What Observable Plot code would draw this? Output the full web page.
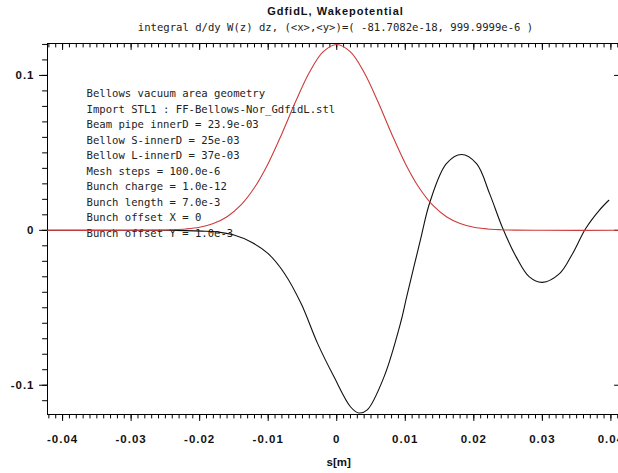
<!DOCTYPE html>
<html>
<head>
<meta charset="utf-8">
<script src="https://cdn.jsdelivr.net/npm/d3@7"></script>
<script src="https://cdn.jsdelivr.net/npm/@observablehq/plot@0.6"></script>
<style>
  html, body { margin: 0; padding: 0; background: #fff; overflow: hidden; width: 618px; height: 473px; }
  #title { width: 577px; padding-left: 47px; padding-top: 5px; height: 16px; line-height: 16px; text-align: center;
           font: bold 11px "Liberation Sans", Arial, sans-serif; letter-spacing: 1px; color: #111; white-space: nowrap; }
  #subtitle { width: 577px; padding-left: 47px; height: 13px; line-height: 13px; text-align: center;
           font: 10.6px "DejaVu Sans Mono", monospace; color: #222; white-space: pre; }
  svg { max-width: none !important; }
  g[aria-label="x-axis tick label"], g[aria-label="y-axis tick label"] { letter-spacing: 1px; }
</style>
</head>
<body>
<div id="title"></div>
<div id="subtitle"></div>
<div id="chart"></div>
<script>
const titleText = "GdfidL, Wakepotential";
const subtitleText = "integral d/dy W(z) dz, (<x>,<y>)=( -81.7082e-18, 999.9999e-6 )";
const annotationLines = [
  "Bellows vacuum area geometry",
  "Import STL1 : FF-Bellows-Nor_GdfidL.stl",
  "Beam pipe innerD = 23.9e-03",
  "Bellow S-innerD = 25e-03",
  "Bellow L-innerD = 37e-03",
  "Mesh steps = 100.0e-6",
  "Bunch charge = 1.0e-12",
  "Bunch length = 7.0e-3",
  "Bunch offset X = 0",
  "Bunch offset Y = 1.0e-3"
];
const xLabel = "s[m]";

// Bunch profile (red)
const redS = [-0.0422, -0.03, -0.026, -0.024, -0.022, -0.02, -0.018, -0.016, -0.014, -0.012, -0.01, -0.008, -0.006, -0.004, -0.002, 0, 0.002, 0.004, 0.006, 0.008, 0.01, 0.012, 0.014, 0.016, 0.018, 0.02, 0.022, 0.024, 0.026, 0.03, 0.0414];
const redV = [0, 0, 0.0001, 0.0004, 0.0009, 0.002, 0.0044, 0.0088, 0.0162, 0.0276, 0.0432, 0.0624, 0.0831, 0.1019, 0.1152, 0.12, 0.1152, 0.1019, 0.0831, 0.0624, 0.0432, 0.0276, 0.0162, 0.0088, 0.0044, 0.002, 0.0009, 0.0004, 0.0001, 0, 0];

// Wakepotential (black)
const blackS = [-0.0422, -0.025, -0.022, -0.0197, -0.0175, -0.015, -0.0125, -0.01, -0.0076, -0.0052, -0.0028, -0.0004, 0.002, 0.0032, 0.00445, 0.0069, 0.0093, 0.0102, 0.0122, 0.0136, 0.016, 0.0182, 0.0204, 0.0223, 0.0242, 0.0262, 0.0281, 0.030, 0.0325, 0.0344, 0.0363, 0.0383, 0.0397];
const blackV = [0, 0, -0.0002, -0.0005, -0.001, -0.003, -0.0075, -0.0151, -0.028, -0.0473, -0.073, -0.0946, -0.1139, -0.1179, -0.1159, -0.0946, -0.06, -0.043, -0.0064, 0.0183, 0.043, 0.0489, 0.043, 0.0237, 0.0015, -0.0173, -0.0301, -0.0336, -0.028, -0.0151, 0.001, 0.0129, 0.0194];

// Axis domains and ticks
const xDomain = [-0.0422, 0.0414];
const yDomain = [-0.1189, 0.1206];
const xMajorTicks = [-0.04, -0.03, -0.02, -0.01, 0, 0.01, 0.02, 0.03, 0.04];
const xMinorTicks = d3.range(-42, 42).map(i => i / 1000);
const yMajorTicks = [-0.1, 0, 0.1];
const yMinorTicks = d3.range(-11, 13).map(i => i / 100);

document.getElementById("title").textContent = titleText;
document.getElementById("subtitle").textContent = subtitleText;

const red = redS.map((s, i) => ({s, v: redV[i]}));
const black = blackS.map((s, i) => ({s, v: blackV[i]}));
const fmt = d => String(d);

const W = 620, H = 439, mt = 9, mb = 59, ml = 47, mr = 0;
const fw = W - ml - mr, fh = H - mt - mb;
// data units per pixel, so tick segments get a fixed pixel length
const pxX = (xDomain[1] - xDomain[0]) / fw;
const pxY = (yDomain[1] - yDomain[0]) / fh;

// tick segments table built from the tick arrays (two points per tick)
const segs = [];
const addX = (ticks, y0, len, tag) => ticks.forEach(x => {
  segs.push({x, y: y0, k: tag + x}, {x, y: y0 - len * pxY, k: tag + x});
});
const addY = (ticks, x0, len, tag) => ticks.forEach(y => {
  segs.push({x: x0, y, k: tag + y}, {x: x0 + len * pxX, y, k: tag + y});
});
addX(xMinorTicks, yDomain[0], 3.5, "bm");   // bottom, outward
addX(xMajorTicks, yDomain[0], 6, "bM");
addX(xMinorTicks, yDomain[1], 3.5, "tm");   // top, inward
addX(xMajorTicks, yDomain[1], 6, "tM");
addY(yMinorTicks, xDomain[0], -5, "lm");    // left, outward
addY(yMajorTicks, xDomain[0], -8, "lM");
addY(yMajorTicks, xDomain[1], -6, "rM");    // right, inward

const chart = Plot.plot({
  width: W,
  height: H,
  marginTop: mt,
  marginBottom: mb,
  marginLeft: ml,
  marginRight: mr,
  style: {fontFamily: "'Liberation Sans', Arial, sans-serif", fontSize: "11.5px", fontWeight: "bold", color: "#111", background: "#fff"},
  x: {domain: xDomain, label: null},
  y: {domain: yDomain, label: null},
  marks: [
    Plot.frame({stroke: "#000"}),
    Plot.line(segs, {x: "x", y: "y", z: "k", stroke: "#000", strokeWidth: 1}),
    // tick labels
    Plot.axisX(xMajorTicks, {anchor: "bottom", tickSize: 0, tickPadding: 20, tickFormat: fmt, label: null}),
    Plot.axisY(yMajorTicks, {anchor: "left", tickSize: 0, tickPadding: 13, tickFormat: fmt, label: null}),
    Plot.text([xLabel], {x: () => 0, frameAnchor: "bottom", dy: 51, dx: 2, text: d => d, fontSize: 11.5, fontWeight: "bold", fill: "#111"}),
    Plot.text([annotationLines.join("\n")], {
      frameAnchor: "top-left", dx: 39, dy: 42.7, lineAnchor: "top", lineHeight: 1.4623,
      text: d => d, textAnchor: "start",
      fontFamily: "'DejaVu Sans Mono', monospace", fontSize: 10.6, fontWeight: "normal", fill: "#222"
    }),
    Plot.line(black, {x: "s", y: "v", stroke: "#111", strokeWidth: 1.1, curve: "catmull-rom"}),
    Plot.line(red, {x: "s", y: "v", stroke: "#cc3b3b", strokeWidth: 1.1, curve: "catmull-rom"})
  ]
});
document.getElementById("chart").appendChild(chart);
</script>
</body>
</html>
